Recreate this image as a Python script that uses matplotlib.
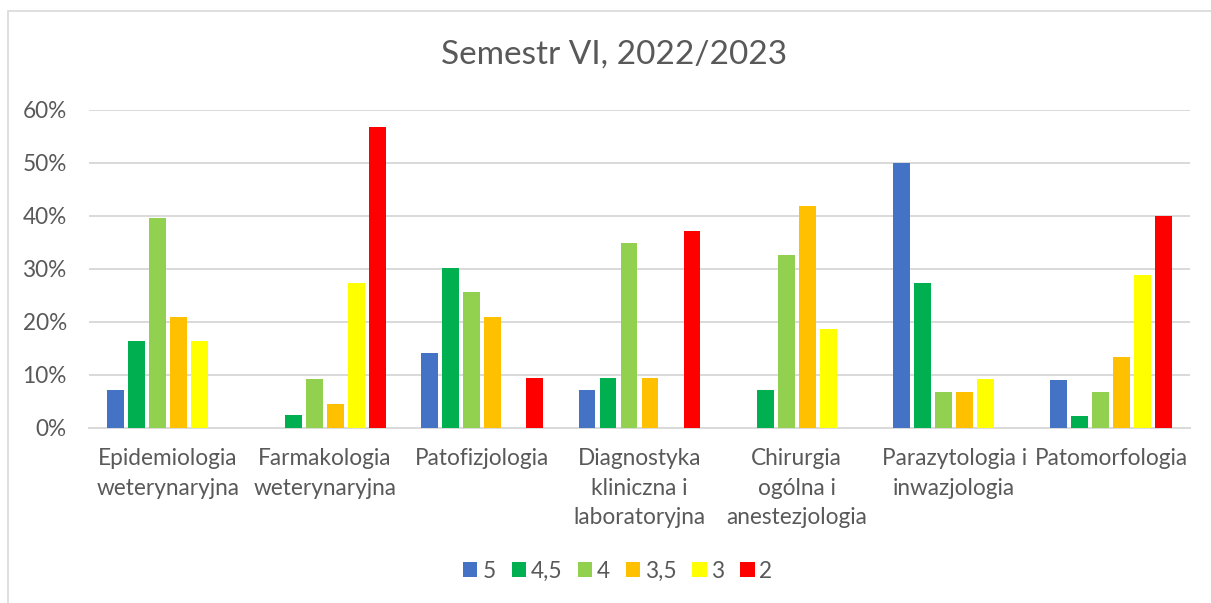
import matplotlib
matplotlib.use("Agg")
import matplotlib.pyplot as plt
import numpy as np
from matplotlib.patches import Rectangle
from matplotlib.ticker import PercentFormatter

categories = ["Epidemiologia\nweterynaryjna", "Farmakologia\nweterynaryjna", "Patofizjologia",
              "Diagnostyka\nkliniczna i\nlaboratoryjna", "Chirurgia\nogólna i\nanestezjologia",
              "Parazytologia i\ninwazjologia", "Patomorfologia"]
series_names = ["5", "4,5", "4", "3,5", "3", "2"]
s5 = [7.0, 0.0, 14.0, 7.0, 0.0, 50.0, 8.9]
s45 = [16.3, 2.3, 30.2, 9.3, 7.0, 27.3, 2.2]
s4 = [39.5, 9.1, 25.6, 34.9, 32.6, 6.8, 6.7]
s35 = [20.9, 4.5, 20.9, 9.3, 41.9, 6.8, 13.3]
s3 = [16.3, 27.3, 0.0, 0.0, 18.6, 9.1, 28.9]
s2 = [0.0, 56.8, 9.3, 37.2, 0.0, 0.0, 40.0]
colors = ["#4472C4", "#00B050", "#92D050", "#FFC000", "#FFFF00", "#FF0000"]

plt.rcParams['font.family'] = ['Lato', 'DejaVu Sans']
txt = "#595959"
fs = 16.3

fig = plt.figure(figsize=(12.11, 6.03), dpi=100)
fig.patch.set_facecolor("white")
W, H = 1211, 603
fig.patches.append(Rectangle((8 / W, -0.1), 1.2, 1 - 11 / H + 0.1, transform=fig.transFigure,
                             fill=False, edgecolor="#D9D9D9", linewidth=1.2))

ax = fig.add_axes([89 / W, 1 - 427.5 / H, (1190 - 89) / W, (427.5 - 110) / H])
x = np.arange(len(categories))
step = 0.1335
data = [s5, s45, s4, s35, s3, s2]
for i, (name, vals, c) in enumerate(zip(series_names, data, colors)):
    ax.bar(x + (i - 2.5) * step, vals, width=0.108, color=c, label=name, zorder=3)

ax.set_xlim(-0.5, len(categories) - 0.5)
ax.set_ylim(0, 60)
ax.set_yticks(np.arange(0, 61, 10))
ax.yaxis.set_major_formatter(PercentFormatter(decimals=0))
ax.grid(axis="y", color="#D9D9D9", linewidth=1.4, zorder=0)
for s in ["top", "right", "left"]:
    ax.spines[s].set_visible(False)
ax.spines["bottom"].set_color("#D9D9D9")
ax.spines["bottom"].set_linewidth(1.4)
ax.set_xticks(x)
ax.set_xticklabels(categories, fontsize=fs, color=txt, linespacing=1.5, va="top")
ax.tick_params(axis="x", length=0, pad=15)
ax.tick_params(axis="y", length=0, pad=16, labelsize=fs, labelcolor=txt)

fig.text(614 / W, 1 - 55 / H, "Semestr VI, 2022/2023", ha="center", va="center",
         fontsize=24, color=txt)

leg = fig.legend(loc="center", bbox_to_anchor=(618 / W, 1 - 571 / H), ncol=6, frameon=False,
                 fontsize=fs, labelcolor=txt, handlelength=0.62, handleheight=0.62,
                 handletextpad=0.22, columnspacing=0.7)

fig.savefig("out.png", dpi=100, facecolor="white")
